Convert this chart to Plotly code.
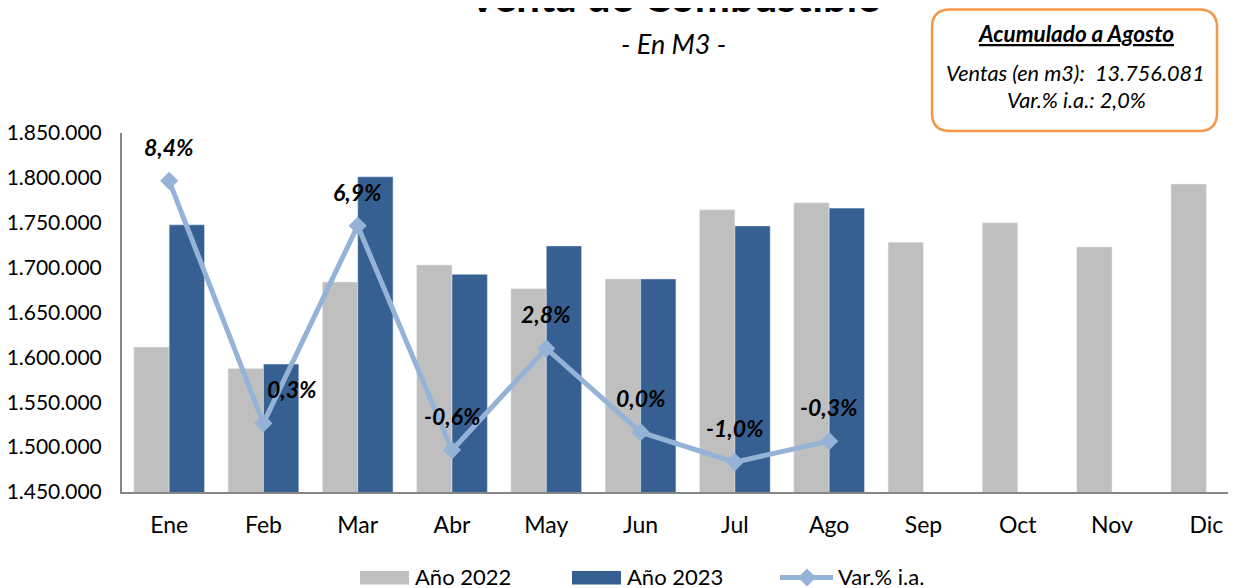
import plotly.graph_objects as go

months = ["Ene", "Feb", "Mar", "Abr", "May", "Jun", "Jul", "Ago", "Sep", "Oct", "Nov", "Dic"]
ventas_2022 = [1611500, 1587700, 1684000, 1703000, 1676600, 1687400, 1764400, 1772200, 1728300, 1749900, 1723100, 1793100]
ventas_2023 = [1747700, 1592500, 1801200, 1692600, 1724200, 1687400, 1746500, 1766300, None, None, None, None]
var_pct = [8.4, 0.3, 6.9, -0.6, 2.8, 0.0, -1.0, -0.3]
var_labels = ["8,4%", "0,3%", "6,9%", "-0,6%", "2,8%", "0,0%", "-1,0%", "-0,3%"]
y_ticks = [1450000, 1500000, 1550000, 1600000, 1650000, 1700000, 1750000, 1800000, 1850000]

title = "Venta de Combustible"
subtitle = "- En M3 -"
box_title = "Acumulado a Agosto"
box_lines = ["Ventas (en m3):  13.756.081", "Var.% i.a.: 2,0%"]
series_names = ["Año 2022", "Año 2023", "Var.% i.a."]

GRAY = "#BFBFBF"
BLUE = "#376092"
LINE = "#95B3D7"
ORANGE = "#F79646"
FONT = "Lato"

# page offset (browser body margin)
OX, OY = 8, 8
W, H = 1228, 580
L, R, T, B = 114, 0, 125, 96
PW, PH = W - L - R, H - T - B


def px(x):
    return (x - OX - L) / PW


def py(y):
    return (H - B - (y - OY)) / PH


fig = go.Figure()
fig.add_trace(go.Bar(x=months, y=ventas_2022, name=series_names[0], marker_color=GRAY))
fig.add_trace(go.Bar(x=months, y=ventas_2023, name=series_names[1], marker_color=BLUE))
fig.add_trace(go.Scatter(x=months[:len(var_pct)], y=var_pct, name=series_names[2], yaxis="y2",
                         mode="lines+markers", line=dict(color=LINE, width=5),
                         marker=dict(symbol="diamond", size=14, color=LINE)))

# data labels for var %
for i, (m, v, t) in enumerate(zip(months, var_pct, var_labels)):
    xs = 29 if i == 1 else 0
    fig.add_annotation(x=m, y=v, xref="x", yref="y2", text="<b><i>" + t + "</i></b>",
                       showarrow=False, xshift=xs, yshift=34,
                       font=dict(family=FONT, size=23, color="black"))

# title and subtitle
fig.add_annotation(x=px(673), y=py(23), xref="paper", yref="paper", xanchor="center", yanchor="bottom",
                   text="<b>" + title + "</b>", showarrow=False,
                   font=dict(family=FONT, size=42, color="black"))
fig.add_annotation(x=px(673), y=py(44), xref="paper", yref="paper", xanchor="center", yanchor="middle",
                   text="<i>" + subtitle + "</i>", showarrow=False,
                   font=dict(family=FONT, size=27, color="black"))

# rounded box
x0, x1, y0, y1, r = 932, 1217, 9.5, 131, 18
rx, ry = r / PW, r / PH
X0, X1, Y0, Y1 = px(x0), px(x1), py(y1), py(y0)
path = (f"M {X0+rx},{Y0} L {X1-rx},{Y0} Q {X1},{Y0} {X1},{Y0+ry} L {X1},{Y1-ry} "
        f"Q {X1},{Y1} {X1-rx},{Y1} L {X0+rx},{Y1} Q {X0},{Y1} {X0},{Y1-ry} "
        f"L {X0},{Y0+ry} Q {X0},{Y0} {X0+rx},{Y0} Z")
fig.add_shape(type="path", path=path, xref="paper", yref="paper",
              line=dict(color=ORANGE, width=2.5), fillcolor="white", layer="above")
fig.add_annotation(x=px(1076), y=py(33), xref="paper", yref="paper", xanchor="center", yanchor="middle",
                   text="<b><i><u>" + box_title + "</u></i></b>", showarrow=False,
                   font=dict(family=FONT, size=22.5, color="black"))
fig.add_annotation(x=px(1075), y=py(73), xref="paper", yref="paper", xanchor="center", yanchor="middle",
                   text="<i>" + box_lines[0] + "</i>", showarrow=False,
                   font=dict(family=FONT, size=21.7, color="black"))
fig.add_annotation(x=px(1076), y=py(100), xref="paper", yref="paper", xanchor="center", yanchor="middle",
                   text="<i>" + box_lines[1] + "</i>", showarrow=False,
                   font=dict(family=FONT, size=21.7, color="black"))

# manual legend
leg_y = 576.5
items = [(360, GRAY, "rect"), (572, BLUE, "rect"), (780, LINE, "line")]
for (lx, col, kind), name in zip(items, series_names):
    if kind == "rect":
        fig.add_shape(type="rect", xref="paper", yref="paper", x0=px(lx), x1=px(lx + 49),
                      y0=py(584.5), y1=py(571), fillcolor=col, line=dict(width=0))
        tx = lx + 53
    else:
        fig.add_shape(type="line", xref="paper", yref="paper", x0=px(lx), x1=px(lx + 53),
                      y0=py(577.5), y1=py(577.5), line=dict(color=col, width=5))
        cx, cy, d = lx + 27, 577.5, 9
        fig.add_shape(type="path", xref="paper", yref="paper",
                      path=f"M {px(cx-d)},{py(cy)} L {px(cx)},{py(cy-d)} L {px(cx+d)},{py(cy)} L {px(cx)},{py(cy+d)} Z",
                      fillcolor=col, line=dict(width=0))
        tx = lx + 56
    fig.add_annotation(x=px(tx), y=py(leg_y), xref="paper", yref="paper", xanchor="left", yanchor="middle",
                       text=name, showarrow=False, font=dict(family=FONT, size=22, color="black"))

fig.update_layout(
    width=W, height=H,
    margin=dict(l=L, r=R, t=T, b=B, pad=0),
    paper_bgcolor="white", plot_bgcolor="white",
    barmode="group", bargap=0.25, bargroupgap=0,
    showlegend=False,
    separators=",.",
    font=dict(family=FONT, color="black"),
    xaxis=dict(range=[-0.5, 11.315], showgrid=False, showline=True, linecolor="#868686", linewidth=2,
               ticks="", tickfont=dict(size=23, family=FONT, color="black"), ticklabelstandoff=11,
               zeroline=False),
    yaxis=dict(range=[1450000, 1850000], tickvals=y_ticks, tickformat=",d", showgrid=False,
               showline=True, linecolor="#868686", linewidth=2, ticks="",
               tickfont=dict(size=21, family=FONT, color="black"), ticklabelstandoff=14,
               zeroline=False),
    yaxis2=dict(range=[-2, 10], overlaying="y", side="right", visible=False),
)

fig.write_html("out.html")
